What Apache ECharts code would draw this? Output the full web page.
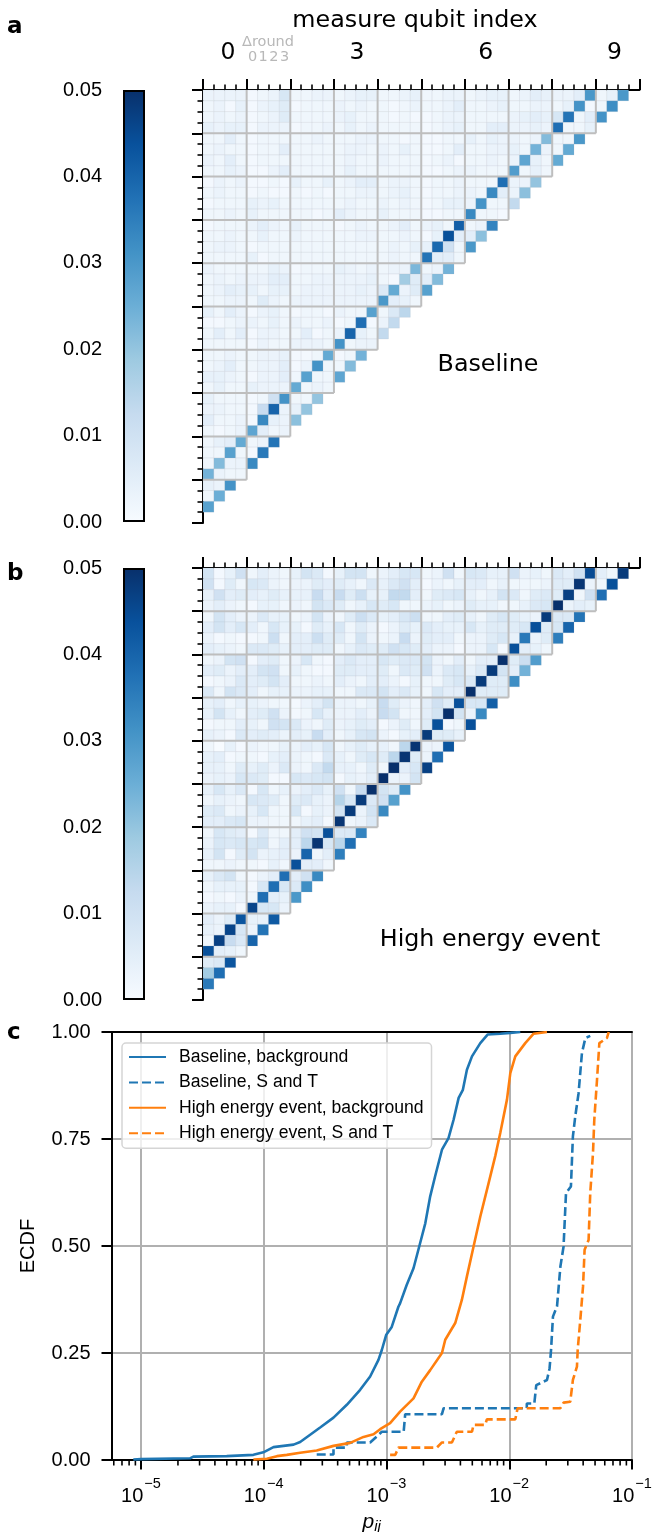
<!DOCTYPE html>
<html>
<head>
<meta charset="utf-8">
<title>Error correlation matrices</title>
<script src="https://cdn.jsdelivr.net/npm/echarts@6/dist/echarts.min.js"></script>
<style>
body { margin: 0; background: #fff; }
#chart { width: 653px; height: 1532px; }
</style>
</head>
<body>
<div id="chart"></div>
<script>
// p_ij in units of 1e-3. First list is matrix row 39 (top), last is row 1.
const baselineRows = [
    [3,3,3,3, 1,2,3,8, 2,2,3,3, 2,3,4,4, 2,2,3,4, 2,2,3,3, 2,3,4,4, 2,3,5,4, 3,3,5,30, 2,4,30],
    [2,3,1,4, 1,3,4,6, 1,2,2,2, 3,2,3,2, 2,1,2,3, 2,2,3,5, 2,2,3,4, 2,2,3,3, 2,4,31,1, 2,32],
    [2,3,2,3, 1,2,3,6, 2,2,2,2, 3,4,2,2, 2,1,2,1, 1,2,3,3, 2,2,2,2, 3,4,5,4, 8,37,2,5, 31],
    [4,3,4,4, 1,3,3,3, 1,2,2,3, 2,4,2,3, 2,2,2,2, 1,2,3,4, 2,2,5,5, 3,3,4,3, 38,2,2,4],
    [2,2,5,2, 1,2,2,2, 2,2,3,2, 2,2,3,3, 2,2,1,2, 1,1,2,2, 4,2,4,3, 3,2,3,22, 2,2,30],
    [2,3,2,2, 1,2,2,5, 2,2,2,2, 2,3,3,2, 3,2,4,2, 1,1,2,5, 2,2,3,3, 4,2,24,3, 2,26],
    [3,2,5,2, 1,2,2,2, 2,2,2,2, 2,3,2,2, 3,2,2,2, 1,2,3,1, 2,2,3,2, 3,27,4,2, 26],
    [2,2,4,3, 1,1,3,5, 2,2,2,2, 2,4,2,2, 2,2,2,2, 1,1,2,3, 3,2,2,2, 29,2,4,2],
    [1,3,2,3, 1,1,2,1, 4,2,2,4, 2,3,5,5, 2,3,3,2, 1,2,2,3, 2,2,2,38, 3,3,20],
    [2,3,2,2, 1,2,1,1, 2,1,2,1, 2,2,3,3, 2,3,4,2, 1,2,2,3, 3,2,33,5, 3,21],
    [1,2,2,2, 4,3,4,2, 2,2,2,2, 2,3,2,2, 3,2,3,2, 1,2,4,4, 3,31,2,2, 13],
    [2,2,3,2, 4,2,2,2, 2,2,1,2, 5,3,2,2, 4,2,2,2, 1,1,2,2, 33,2,2,1],
    [1,2,2,2, 3,5,3,2, 4,2,2,2, 1,2,3,2, 2,3,5,2, 3,4,2,41, 2,3,34],
    [2,2,3,2, 2,4,2,2, 3,2,2,2, 2,2,3,3, 2,2,3,2, 1,4,44,5, 5,21],
    [2,3,3,2, 1,2,2,2, 2,2,2,2, 2,2,2,2, 2,3,2,4, 4,39,10,2, 30],
    [2,2,2,2, 4,1,2,2, 2,2,2,2, 2,2,2,2, 2,3,2,2, 37,5,5,2],
    [3,2,2,2, 2,2,4,3, 1,2,2,2, 4,3,2,3, 2,3,3,23, 2,3,24],
    [2,3,2,3, 3,3,5,5, 2,2,3,3, 3,3,3,4, 2,1,18,6, 5,22],
    [2,3,5,4, 4,2,4,4, 2,3,3,3, 3,3,4,3, 7,26,3,6, 28],
    [2,2,3,3, 2,6,3,2, 3,3,3,3, 3,3,3,3, 30,5,4,2],
    [4,2,5,3, 1,3,4,2, 1,2,2,1, 3,2,2,28, 2,7,14],
    [1,1,2,3, 3,2,4,2, 3,2,2,3, 1,2,38,1, 3,13],
    [2,5,2,5, 1,3,3,2, 2,5,1,2, 3,40,4,2, 13],
    [2,2,2,2, 1,3,2,2, 3,3,3,2, 31,2,3,3],
    [2,2,3,2, 2,3,3,4, 1,1,2,26, 1,2,24],
    [2,3,5,2, 2,3,3,5, 1,3,31,2, 2,22],
    [4,4,3,2, 1,3,3,5, 2,28,2,2, 27],
    [2,4,2,2, 4,3,3,3, 26,2,3,2],
    [4,2,2,2, 1,2,10,31, 2,2,20],
    [3,3,2,2, 1,12,40,3, 4,20],
    [5,2,2,3, 1,33,4,3, 21],
    [2,1,2,3, 27,5,2,3],
    [2,4,5,26, 2,3,37],
    [2,2,28,2, 1,36],
    [2,22,3,3, 33],
    [24,3,2,2],
    [4,3,31],
    [2,25],
    [28]
];
const highEnergyRows = [
    [9,1,4,10, 2,5,3,2, 4,9,7,1, 4,9,9,2, 3,5,8,8, 2,3,10,2, 8,7,4,4, 10,3,4,2, 7,5,10,45, 5,2,48],
    [10,1,6,2, 8,7,3,2, 3,3,6,5, 6,4,2,7, 4,7,10,5, 1,3,2,4, 5,5,2,4, 2,2,2,3, 6,6,49,3, 2,44],
    [4,10,5,6, 5,4,6,4, 4,4,12,5, 12,6,11,4, 4,13,13,5, 2,6,7,8, 4,2,4,9, 7,2,6,7, 6,47,2,10, 38],
    [3,5,3,2, 1,4,4,2, 3,2,9,7, 6,2,4,8, 6,8,2,2, 3,4,2,3, 6,4,4,2, 2,4,7,8, 50,3,5,4],
    [2,9,5,3, 3,7,4,4, 2,3,9,3, 2,6,11,7, 4,5,8,11, 2,2,5,6, 4,2,6,8, 6,4,3,48, 7,7,37],
    [5,9,5,8, 5,2,8,4, 4,1,6,4, 8,2,6,3, 1,3,6,4, 7,5,4,4, 8,4,6,6, 6,8,44,6, 8,40],
    [3,1,2,1, 1,2,11,2, 5,5,11,6, 6,2,9,3, 2,3,12,3, 6,5,5,2, 3,3,6,8, 4,36,3,6, 35],
    [5,4,3,2, 7,7,6,4, 5,5,6,6, 2,4,7,6, 6,10,8,6, 5,3,3,1, 3,3,8,1, 44,5,4,2],
    [2,3,9,10, 1,5,6,2, 3,8,2,1, 5,7,5,5, 8,6,7,7, 9,3,2,5, 2,5,5,50, 6,11,29],
    [5,6,3,5, 5,9,10,2, 4,2,1,1, 6,6,5,5, 6,2,7,6, 10,3,7,8, 4,7,48,9, 5,24],
    [1,2,3,7, 5,6,9,5, 2,2,3,2, 5,3,2,5, 5,3,1,4, 2,2,6,8, 7,48,6,6, 32],
    [7,2,9,7, 5,2,4,4, 3,3,4,4, 2,2,7,7, 9,5,7,4, 2,8,5,5, 50,6,6,6],
    [4,5,2,4, 4,3,2,2, 1,3,5,9, 3,3,2,4, 12,6,3,2, 5,10,6,44, 8,8,41],
    [4,9,4,2, 5,6,10,3, 1,2,8,4, 3,3,5,3, 12,9,2,2, 5,9,50,9, 3,33],
    [1,2,2,5, 4,2,10,9, 7,3,2,6, 3,4,6,5, 1,3,6,2, 6,44,1,2, 44],
    [4,3,1,7, 5,6,5,3, 5,4,12,5, 2,4,8,9, 3,1,4,5, 48,6,6,4],
    [2,0,4,1, 3,2,2,4, 3,5,4,8, 2,4,6,4, 4,2,14,49, 3,3,43],
    [4,5,1,2, 2,1,4,5, 3,2,1,7, 4,2,6,8, 6,14,49,6, 3,38],
    [4,4,2,6, 4,6,3,7, 3,2,7,13, 4,4,2,6, 2,50,5,8, 47],
    [3,4,3,8, 7,6,1,1, 8,7,8,9, 1,4,3,5, 50,3,3,9],
    [4,8,4,7, 1,8,2,4, 3,5,7,4, 10,2,12,50, 9,6,31],
    [2,4,3,2, 8,7,6,2, 6,7,4,3, 15,8,48,7, 10,28],
    [6,7,2,3, 4,8,2,2, 8,1,4,3, 9,48,3,9, 33],
    [5,5,7,8, 3,3,2,2, 2,4,5,1, 49,2,3,7],
    [2,8,6,5, 1,7,2,2, 5,10,9,44, 7,7,34],
    [3,8,7,8, 8,9,2,5, 5,14,49,8, 14,38],
    [4,9,1,6, 9,3,4,5, 3,40,2,5, 35],
    [2,2,3,2, 2,1,4,2, 44,5,5,2],
    [4,7,9,2, 1,3,5,38, 5,10,33],
    [2,4,4,4, 1,8,38,8, 7,32],
    [1,2,1,3, 2,38,5,4, 30],
    [3,4,4,1, 46,8,8,3],
    [5,3,6,43, 4,4,42],
    [4,3,46,8, 3,37],
    [2,47,12,7, 40],
    [44,5,4,2],
    [6,7,43],
    [18,38],
    [36]
];
const groupEdges = [4, 8, 12, 16, 20, 24, 28, 32, 36];
const qubitLabels = ['0', '3', '6', '9'];
const qubitLabelPos = [2.3, 14.1, 25.9, 37.7];
const roundLabels = ['0', '1', '2', '3'];
const colorbarTop = [0.05];
const blues = ['#f7fbff', '#deebf7', '#c6dbef', '#9ecae1', '#6baed6', '#4292c6', '#2171b5', '#08519c', '#08306b'];

// ECDF curves as [p, fraction]
const baselineBackground = [[8.66e-6,.001],[1e-5,.002],[2.51e-5,.004],[2.67e-5,.008],[4.99e-5,.009],[8.24e-5,.012],[9.93e-5,.018],[1.2e-4,.03],[1.75e-4,.036],[1.98e-4,.042],[2.88e-4,.076],[3.7e-4,.099],[4.75e-4,.129],[6.1e-4,.164],[7.36e-4,.195],[8.6e-4,.234],[9.16e-4,.257],[9.93e-4,.292],[1.1e-3,.31],[1.25e-3,.358],[1.29e-3,.366],[1.46e-3,.409],[1.66e-3,.448],[1.88e-3,.507],[2.07e-3,.553],[2.27e-3,.616],[2.49e-3,.663],[2.83e-3,.725],[3.2e-3,.752],[3.52e-3,.795],[3.87e-3,.846],[4.19e-3,.865],[4.52e-3,.912],[4.97e-3,.943],[5.81e-3,.974],[6.66e-3,.994],[8.45e-3,.996],[1.02e-2,.998],[1.23e-2,1]];
const baselineST = [[2.7e-4,.013],[3.7e-4,.013],[3.7e-4,.029],[4.75e-4,.029],[4.75e-4,.041],[7.36e-4,.041],[8.34e-4,.055],[9.16e-4,.066],[1.38e-3,.066],[1.42e-3,.107],[2.83e-3,.107],[2.92e-3,.121],[1.39e-2,.121],[1.39e-2,.132],[1.6e-2,.132],[1.66e-2,.175],[2.03e-2,.187],[2.13e-2,.214],[2.19e-2,.257],[2.27e-2,.335],[2.45e-2,.359],[2.61e-2,.452],[2.77e-2,.499],[2.9e-2,.624],[3.18e-2,.639],[3.3e-2,.756],[3.45e-2,.803],[3.67e-2,.857],[3.91e-2,.951],[4.17e-2,.986],[4.57e-2,.991]];
const highBackground = [[8.24e-5,.001],[1.06e-4,.003],[1.28e-4,.009],[1.54e-4,.012],[1.98e-4,.017],[2.7e-4,.022],[3.7e-4,.033],[5.06e-4,.04],[6.5e-4,.054],[7.84e-4,.06],[8.88e-4,.072],[1.07e-3,.086],[1.29e-3,.113],[1.66e-3,.144],[1.94e-3,.183],[2.27e-3,.21],[2.83e-3,.25],[3.01e-3,.281],[3.63e-3,.32],[4.11e-3,.374],[4.52e-3,.429],[5.12e-3,.499],[5.81e-3,.569],[6.79e-3,.647],[7.69e-3,.71],[8.45e-3,.764],[9.58e-3,.842],[1.02e-2,.904],[1.12e-2,.943],[1.35e-2,.974],[1.58e-2,.996],[2.03e-2,1]];
const highST = [[1.07e-3,.012],[1.18e-3,.012],[1.25e-3,.029],[2.57e-3,.029],[2.83e-3,.041],[3.41e-3,.041],[3.74e-3,.066],[4.97e-3,.066],[5.12e-3,.082],[6.37e-3,.082],[6.57e-3,.095],[1.12e-2,.095],[1.17e-2,.121],[2.61e-2,.121],[2.77e-2,.134],[3.14e-2,.136],[3.3e-2,.187],[3.56e-2,.218],[3.61e-2,.257],[3.79e-2,.327],[3.99e-2,.405],[4.11e-2,.491],[4.43e-2,.514],[4.57e-2,.624],[4.81e-2,.717],[4.93e-2,.795],[5.19e-2,.889],[5.42e-2,.974],[6.25e-2,.986],[6.46e-2,1]];

const SANS = '"Liberation Sans", Arial, sans-serif';
const DEJAVU = '"DejaVu Sans", sans-serif';
const GRID_GRAY = '#b0b0b0';

function matrixCells(rows) {
    var cells = [];
    rows.forEach(function(values, i) {
        values.forEach(function(v, col) {
            cells.push([col, 39 - i, v]);
        });
    });
    return cells;
}

function staircase() {
    var segs = [];
    groupEdges.forEach(function(e) {
        segs.push([0, e, e, e]);
        segs.push([e, e, e, 40]);
    });
    return segs;
}

function renderCell(params, api) {
    var a = api.coord([api.value(0), api.value(1)]);
    var b = api.coord([api.value(0) + 1, api.value(1) + 1]);
    return {
        type: 'rect',
        shape: { x: a[0], y: b[1], width: b[0] - a[0], height: a[1] - b[1] },
        style: { fill: api.visual('color'), stroke: 'rgba(170,175,185,0.16)', lineWidth: 1 }
    };
}

function renderSeg(params, api) {
    var a = api.coord([api.value(0), api.value(1)]);
    var b = api.coord([api.value(2), api.value(3)]);
    return {
        type: 'line',
        shape: { x1: a[0], y1: a[1], x2: b[0], y2: b[1] },
        style: { stroke: '#bebebe', lineWidth: 2 }
    };
}

function renderMinorTick(params, api) {
    var a = api.coord([api.value(0), 0]);
    return {
        type: 'line',
        shape: { x1: a[0], y1: a[1], x2: a[0], y2: a[1] + 5.5 },
        style: { stroke: '#000', lineWidth: 1.6 }
    };
}

var minorDecades = [];
[-6, -5, -4, -3, -2].forEach(function(k) {
    [2, 3, 4, 5, 6, 7, 8, 9].forEach(function(m) {
        var v = m * Math.pow(10, k);
        if (v > 5.75e-6 && v < 0.1) minorDecades.push([v]);
    });
});

var black = { color: '#000', width: 2 };

function colorbarAxes(grid) {
    return {
        x: { type: 'category', gridIndex: grid, data: ['p'], show: false },
        y: {
            type: 'value', gridIndex: grid, min: 0, max: 0.05, interval: 0.01,
            axisLine: { show: false },
            axisTick: { length: 10, lineStyle: black },
            splitLine: { show: false },
            axisLabel: {
                fontFamily: SANS, fontSize: 20, color: '#000', margin: 21,
                formatter: function(v) { return v.toFixed(2); }
            }
        }
    };
}

function heatAxes(grid, withLabels) {
    return {
        x: {
            type: 'value', gridIndex: grid, position: 'top', min: 0, max: 40, interval: 4,
            axisLine: { onZero: false, lineStyle: black },
            axisTick: { length: 11, lineStyle: black },
            minorTick: { show: true, splitNumber: 4, length: 5.5, lineStyle: { color: '#000', width: 1.6 } },
            splitLine: { show: false },
            axisLabel: withLabels ? {
                customValues: qubitLabelPos,
                margin: 25, fontFamily: DEJAVU, fontSize: 23.5, color: '#000',
                formatter: function(v) { return qubitLabels[qubitLabelPos.indexOf(v)]; }
            } : { show: false }
        },
        y: {
            type: 'value', gridIndex: grid, min: 0, max: 40, interval: 4,
            axisLine: { onZero: false, lineStyle: black },
            axisTick: { length: 11, lineStyle: black },
            minorTick: { show: true, splitNumber: 4, length: 5.5, lineStyle: { color: '#000', width: 1.6 } },
            splitLine: { show: false },
            axisLabel: { show: false }
        }
    };
}

var cbA = colorbarAxes(0), heatA = heatAxes(1, true), cbB = colorbarAxes(2), heatB = heatAxes(3, false);

function colorbarSeries(xi, yi) {
    return {
        type: 'bar', xAxisIndex: xi, yAxisIndex: yi, data: colorbarTop, barWidth: '100%',
        silent: true,
        itemStyle: {
            borderColor: '#000', borderWidth: 2,
            color: new echarts.graphic.LinearGradient(0, 1, 0, 0, blues.map(function(c, i) {
                return { offset: i / (blues.length - 1), color: c };
            }))
        }
    };
}

function ecdfLine(name, data, color, dashed) {
    return {
        name: name, type: 'line', xAxisIndex: 4, yAxisIndex: 4, data: data,
        symbol: 'none', showSymbol: false, z: 5,
        lineStyle: { color: color, width: 2.6, type: dashed ? [9, 4] : 'solid' },
        itemStyle: { color: color }
    };
}

var chart = echarts.init(document.getElementById('chart'));
chart.setOption({
    animation: false,
    textStyle: { fontFamily: SANS },
    grid: [
        { left: 123, top: 90, width: 22, height: 432, outerBoundsMode: 'none' },
        { left: 203, top: 90, width: 436.5, height: 433, outerBoundsMode: 'none' },
        { left: 123, top: 568, width: 22, height: 432, outerBoundsMode: 'none' },
        { left: 203, top: 568, width: 436.5, height: 432, outerBoundsMode: 'none' },
        { left: 111.5, top: 1032, width: 520.5, height: 428, outerBoundsMode: 'none' }
    ],
    xAxis: [cbA.x, heatA.x, cbB.x, heatB.x, {
        type: 'log', gridIndex: 4, min: 5.75e-6, max: 0.1, logBase: 10,
        axisLine: { onZero: false, lineStyle: black },
        axisTick: { length: 9.5, lineStyle: black },
        splitLine: { show: true, lineStyle: { color: GRID_GRAY, width: 2 } },
        name: '{p|p}{s|ij}',
        nameLocation: 'middle',
        nameGap: 51,
        nameTextStyle: {
            rich: {
                p: { fontFamily: SANS, fontStyle: 'italic', fontSize: 21, color: '#000' },
                s: { fontFamily: SANS, fontStyle: 'italic', fontSize: 15, color: '#000', verticalAlign: 'bottom', padding: [8, 0, 0, 0] }
            }
        },
        axisLabel: {
            margin: 14,
            showMinLabel: false,
            formatter: function(v) {
                var k = Math.round(Math.log(v) / Math.LN10);
                if (Math.abs(Math.pow(10, k) - v) / v > 1e-6) return '';
                return '{b|10}{e|\u2212' + Math.abs(k) + '}';
            },
            rich: {
                b: { fontFamily: SANS, fontSize: 20, color: '#000', padding: [12, 0, 0, 0] },
                e: { fontFamily: SANS, fontSize: 14.5, color: '#000', padding: [0, 0, 12, 1] }
            }
        }
    }, {
        type: 'value', gridIndex: 4, position: 'top', min: 0, max: 1,
        axisLine: { show: true, onZero: false, lineStyle: black },
        axisTick: { show: false }, axisLabel: { show: false }, splitLine: { show: false }
    }],
    yAxis: [cbA.y, heatA.y, cbB.y, heatB.y, {
        type: 'value', gridIndex: 4, min: 0, max: 1, interval: 0.25,
        name: 'ECDF', nameLocation: 'middle', nameGap: 73,
        nameTextStyle: { fontFamily: SANS, fontSize: 20, color: '#000' },
        axisLine: { show: true, lineStyle: black },
        axisTick: { length: 10, lineStyle: black },
        splitLine: { show: true, lineStyle: { color: GRID_GRAY, width: 2 } },
        axisLabel: {
            fontFamily: SANS, fontSize: 20, color: '#000', margin: 21,
            formatter: function(v) { return v.toFixed(2); }
        }
    }],
    visualMap: {
        show: false, type: 'continuous', min: 0, max: 50, dimension: 2,
        seriesIndex: [1, 4], inRange: { color: blues }
    },
    legend: {
        orient: 'vertical', left: 122, top: 1043,
        padding: [5, 8, 6, 6],
        backgroundColor: 'rgba(255,255,255,0.8)',
        borderColor: '#d5d5d5', borderWidth: 1.5, borderRadius: 4,
        itemWidth: 37, itemHeight: 14, itemGap: 7.4,
        itemStyle: { opacity: 0 },
        textStyle: { fontFamily: SANS, fontSize: 17.6, color: '#000', padding: [0, 0, 0, 8] },
        data: ['Baseline, background', 'Baseline, S and T', 'High energy event, background', 'High energy event, S and T']
    },
    series: [
        colorbarSeries(0, 0),
        { type: 'custom', xAxisIndex: 1, yAxisIndex: 1, renderItem: renderCell, data: matrixCells(baselineRows), encode: { x: 0, y: 1 }, z: 2 },
        { type: 'custom', xAxisIndex: 1, yAxisIndex: 1, renderItem: renderSeg, data: staircase(), z: 3 },
        colorbarSeries(2, 2),
        { type: 'custom', xAxisIndex: 3, yAxisIndex: 3, renderItem: renderCell, data: matrixCells(highEnergyRows), encode: { x: 0, y: 1 }, z: 2 },
        { type: 'custom', xAxisIndex: 3, yAxisIndex: 3, renderItem: renderSeg, data: staircase(), z: 3 },
        { type: 'custom', xAxisIndex: 4, yAxisIndex: 4, renderItem: renderMinorTick, data: minorDecades, encode: { x: 0 }, clip: false, z: 4 },
        ecdfLine('Baseline, background', baselineBackground, '#1f77b4', false),
        ecdfLine('Baseline, S and T', baselineST, '#1f77b4', true),
        ecdfLine('High energy event, background', highBackground, '#ff7f0e', false),
        ecdfLine('High energy event, S and T', highST, '#ff7f0e', true)
    ],
    graphic: [
        { type: 'text', left: 7, top: 16, style: { text: 'a', font: 'bold 23px ' + DEJAVU, fill: '#000' } },
        { type: 'text', left: 7, top: 563, style: { text: 'b', font: 'bold 23px ' + DEJAVU, fill: '#000' } },
        { type: 'text', left: 7, top: 1022, style: { text: 'c', font: 'bold 23px ' + DEJAVU, fill: '#000' } },
        { type: 'text', x: 415, y: 21, style: { text: 'measure qubit index', font: '23.8px ' + DEJAVU, fill: '#000', align: 'center', verticalAlign: 'middle' } },
        { type: 'text', x: 268, y: 42, style: { text: '\u0394round', font: '14.5px ' + DEJAVU, fill: '#b8b8b8', align: 'center', verticalAlign: 'middle' } }
    ].concat(roundLabels.map(function(t, i) {
        return { type: 'text', x: 252.5 + i * 10.7, y: 57, style: { text: t, font: '14.5px ' + DEJAVU, fill: '#b8b8b8', align: 'center', verticalAlign: 'middle' } };
    })).concat([
        { type: 'text', x: 488, y: 365, style: { text: 'Baseline', font: '23.8px ' + DEJAVU, fill: '#000', align: 'center', verticalAlign: 'middle' } },
        { type: 'text', x: 490, y: 940, style: { text: 'High energy event', font: '23.8px ' + DEJAVU, fill: '#000', align: 'center', verticalAlign: 'middle' } }
    ])
});
</script>
</body>
</html>
